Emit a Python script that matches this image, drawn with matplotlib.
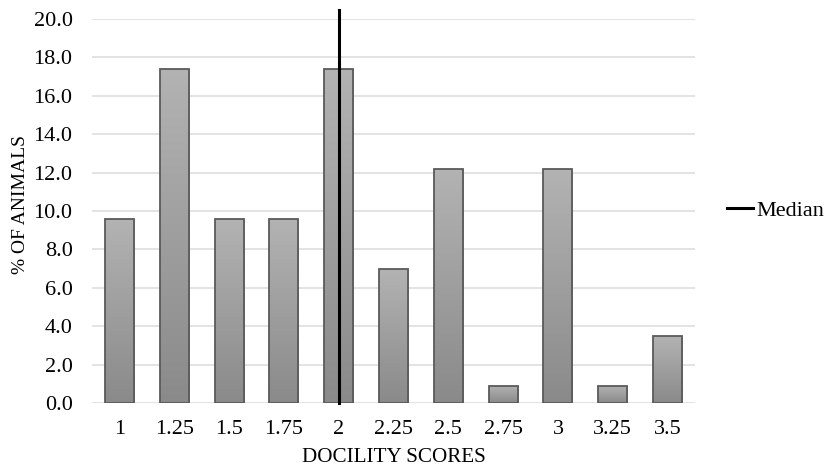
import numpy as np
import matplotlib
matplotlib.use('Agg')
import matplotlib.pyplot as plt
from matplotlib.lines import Line2D

# Daten
scores = ['1', '1.25', '1.5', '1.75', '2', '2.25', '2.5', '2.75', '3', '3.25', '3.5']
pct_animals = [9.6, 17.4, 9.6, 9.6, 17.4, 7.0, 12.2, 0.9, 12.2, 0.9, 3.5]
median_score = '2'

plt.rcParams['font.family'] = ['Liberation Serif', 'DejaVu Serif']

fig = plt.figure(figsize=(8.24, 4.70), dpi=100)
ax = fig.add_axes([92 / 824, 1 - 403 / 470, (695 - 92) / 824, (403 - 19) / 470])

x = np.arange(len(scores))
bars = ax.bar(x, pct_animals, width=0.53, color='none', edgecolor='#5a5a5a',
              linewidth=1.3, zorder=3)

# Farbverlauf in den Balken
grad = np.linspace(0, 1, 256).reshape(-1, 1)
cmap = matplotlib.colors.LinearSegmentedColormap.from_list('g', ['#8a8a8a', '#b3b3b3'])
for b in bars:
    x0, y0 = b.get_x(), b.get_y()
    w, h = b.get_width(), b.get_height()
    im = ax.imshow(grad, extent=[x0, x0 + w, y0, y0 + h], origin='lower',
                   cmap=cmap, aspect='auto', zorder=2)
    im.set_clip_path(b)

ax.set_xlim(-0.5, len(scores) - 0.5)
ax.set_ylim(0, 20)
ax.set_yticks(np.arange(0, 20.1, 2))
ax.set_yticklabels([f'{v:.1f}' for v in np.arange(0, 20.1, 2)])
ax.set_xticks(x)
ax.set_xticklabels(scores)
ax.tick_params(length=0, labelsize=16)
ax.tick_params(axis='x', pad=12.5)
ax.tick_params(axis='y', pad=14)
ax.grid(axis='y', color='#e0e0e0', linewidth=1.3, zorder=0)
for s in ax.spines.values():
    s.set_visible(False)

# Median-Linie
mi = scores.index(median_score)
ax.plot([mi, mi], [0, 20.45], color='black', linewidth=2.2, zorder=4, clip_on=False)

ax.set_xlabel('DOCILITY SCORES', fontsize=15.2, va='center')
ax.xaxis.set_label_coords(0.5, (403 - 457) / 384)
ax.set_ylabel('% OF ANIMALS', fontsize=14, va='center')
ax.yaxis.set_label_coords((20 - 92) / 603, (403 - 204) / 384)

handle = Line2D([], [], color='black', linewidth=2.2)
fig.legend([handle], ['Median'], loc='center left', bbox_to_anchor=(727 / 824, 1 - 211 / 470),
           frameon=False, fontsize=16, handlelength=1.15, handletextpad=0.15,
           borderpad=0, borderaxespad=0)

fig.savefig('out.png', dpi=100)
